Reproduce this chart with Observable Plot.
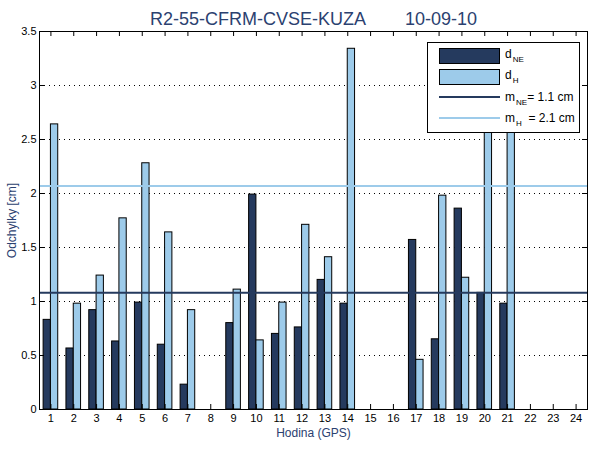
<!DOCTYPE html>
<html>
<head>
<meta charset="utf-8">
<script src="https://cdn.jsdelivr.net/npm/d3@7"></script>
<script src="https://cdn.jsdelivr.net/npm/@observablehq/plot@0.6"></script>
<style>
  body { margin: 0; background: #fff; }
  #chart { width: 600px; height: 450px; }
  svg { font-family: "Liberation Sans", Arial, sans-serif; }
</style>
</head>
<body>
<div id="chart"></div>
<script>
// ---- data ----
const hours = [1,2,3,4,5,6,7,8,9,10,11,12,13,14,15,16,17,18,19,20,21,22,23,24];
const dNE = [0.83,0.565,0.92,0.63,0.99,0.60,0.23,null,0.80,1.99,0.70,0.76,1.20,0.98,null,null,1.57,0.65,1.86,1.08,0.98,null,null,null];
const dH  = [2.64,0.98,1.24,1.77,2.28,1.64,0.92,null,1.11,0.64,0.99,1.71,1.41,3.34,null,null,0.46,1.98,1.22,2.9,2.8,null,null,null];
const yTicks = [0,0.5,1,1.5,2,2.5,3,3.5];
const mNE = 1.08, mH = 2.07;
const titleLeft = "R2-55-CFRM-CVSE-KUZA", titleRight = "10-09-10";
const xLabel = "Hodina (GPS)", yLabel = "Odchylky [cm]";

const cDark = "#253a5e", cLight = "#9dcbea", cText = "#2b4170";

const neRows = hours.map((h,i) => ({h, v: dNE[i]})).filter(d => d.v != null);
const hRows = hours.map((h,i) => ({h, v: dH[i]})).filter(d => d.v != null);

const W = 600, H = 450;
const mL = 39, mR = 13, mT = 31, mB = 41;
const xDom = [0.5, 24.5], yDom = [0, 3.5];
const tickPx = 5;
const xu = tickPx / ((W - mL - mR) / 24);   // tick length in x units
const yu = tickPx / ((H - mT - mB) / 3.5);  // tick length in y units
const gridTicks = yTicks.filter(t => t > 0 && t < 3.5);

const chart = Plot.plot({
  width: W, height: H,
  marginLeft: mL, marginRight: mR, marginTop: mT, marginBottom: mB,
  style: {fontFamily: "'Liberation Sans', Arial, sans-serif", fontSize: "11px", color: "#000", background: "#fff"},
  x: {domain: xDom, axis: null},
  y: {domain: yDom, axis: null},
  marks: [
    Plot.ruleY(gridTicks, {y: d => d, stroke: "#000", strokeWidth: 1, strokeDasharray: "1,4"}),
    Plot.rectY(neRows, {x1: d => d.h - 0.32, x2: d => d.h, y1: 0, y2: "v", fill: cDark, stroke: "#000", strokeWidth: 1, inset: 0}),
    Plot.rectY(hRows, {x1: d => d.h, x2: d => d.h + 0.32, y1: 0, y2: "v", fill: cLight, stroke: "#000", strokeWidth: 1, inset: 0}),
    Plot.ruleY([mNE], {y: d => d, stroke: cDark, strokeWidth: 2}),
    Plot.ruleY([mH], {y: d => d, stroke: cLight, strokeWidth: 2}),
    // inward ticks
    Plot.ruleX(hours, {x: d => d, y1: 0, y2: yu, stroke: "#000"}),
    Plot.ruleX(hours, {x: d => d, y1: 3.5 - yu, y2: 3.5, stroke: "#000"}),
    Plot.ruleY(yTicks, {y: d => d, x1: 0.5, x2: 0.5 + xu, stroke: "#000"}),
    Plot.ruleY(yTicks, {y: d => d, x1: 24.5 - xu, x2: 24.5, stroke: "#000"}),
    Plot.frame({stroke: "#000"}),
    // tick labels
    Plot.text(hours, {x: d => d, y: 0, text: d => String(d), dy: 9, fill: "#000", fontSize: 11}),
    Plot.text(yTicks, {x: 0.5, y: d => d, text: d => String(d), dx: -3, textAnchor: "end", fill: "#000", fontSize: 11}),
    // axis labels
    Plot.text([xLabel], {x: 12.5, y: 0, text: d => d, dy: 24, fill: cText, fontSize: 12}),
    Plot.text([yLabel], {x: 0.5, y: 1.75, text: d => d, dx: -27, rotate: -90, fill: cText, fontSize: 12})
  ]
});
document.getElementById("chart").appendChild(chart);

// title and legend overlay
const svg = d3.select(chart);
const tg = svg.append("g").attr("fill", cText).attr("font-size", 18).attr("text-anchor", "start");
tg.append("text").attr("x", 150).attr("y", 25).text(titleLeft);
tg.append("text").attr("x", 405).attr("y", 25).text(titleRight);

const lg = svg.append("g").attr("text-anchor", "start");
lg.append("rect").attr("x", 427.5).attr("y", 42.5).attr("width", 152).attr("height", 90).attr("fill", "#fff").attr("stroke", "#000");
lg.append("rect").attr("x", 439.5).attr("y", 48.5).attr("width", 60).attr("height", 15).attr("fill", cDark).attr("stroke", "#000");
lg.append("rect").attr("x", 439.5).attr("y", 69.5).attr("width", 60).attr("height", 15).attr("fill", cLight).attr("stroke", "#000");
lg.append("line").attr("x1", 439).attr("x2", 500).attr("y1", 97).attr("y2", 97).attr("stroke", cDark).attr("stroke-width", 2);
lg.append("line").attr("x1", 439).attr("x2", 500).attr("y1", 118).attr("y2", 118).attr("stroke", cLight).attr("stroke-width", 2);
const items = [
  {base: "d", sub: "NE", rest: "", y: 58},
  {base: "d", sub: "H", rest: "", y: 79},
  {base: "m", sub: "NE", rest: "= 1.1 cm", y: 101},
  {base: "m", sub: "H", rest: "  = 2.1 cm", y: 122}
];
for (const it of items) {
  const t = lg.append("text").attr("x", 505).attr("y", it.y).attr("font-size", 12).attr("fill", "#000").attr("xml:space", "preserve").style("white-space", "pre");
  t.append("tspan").text(it.base);
  t.append("tspan").attr("font-size", 8).attr("dx", 1).attr("dy", 4).text(it.sub);
  if (it.rest) t.append("tspan").attr("dy", -4).attr("font-size", 12).text(it.rest);
}
</script>
</body>
</html>
